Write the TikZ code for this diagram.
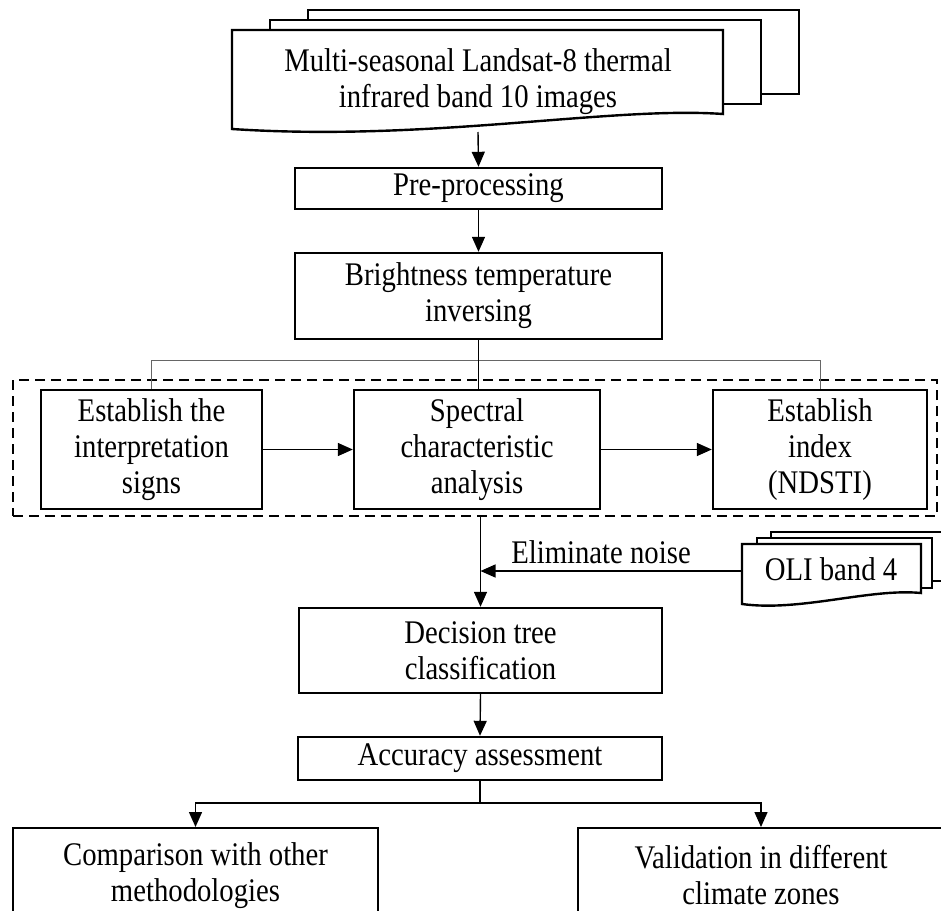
\documentclass[tikz,border=0pt]{standalone}
\usepackage{fontspec}
\setmainfont{Liberation Serif}[FakeStretch=0.87]
\usetikzlibrary{arrows.meta,calc}
\begin{document}
\begin{tikzpicture}[x=1pt,y=-1pt,
  txt/.style={font=\fontsize{33}{36}\selectfont, align=center, inner sep=0pt},
  box/.style={txt, draw, line width=2.4pt, fill=white},
  docline/.style={draw, line width=2.4pt, fill=white, line join=miter},
  conn/.style={line width=1.4pt, -{Triangle[length=15pt,width=13pt]}},
  plain/.style={line width=1.4pt},
  thinbranch/.style={line width=1pt, draw=gray!80!black},
  groupbox/.style={draw, dashed, line width=2.2pt, dash pattern=on 10pt off 6pt, inner sep=0pt}
]
\useasboundingbox (0,0) rectangle (941,910);
\clip (0,0) rectangle (941,910);

% ---- top multi-document ----
\path[docline] (308,10) rectangle (799,94);
\path[docline] (270,20) rectangle (761,104);
\path[docline] (232,30) -- (723,30) -- (723,114)
   .. controls (610,106) and (430,142) .. (232,129) -- cycle;
\node[txt] (src) at (478,82) {Multi-seasonal Landsat-8 thermal\\infrared band 10 images};
\coordinate (srcb) at (478,132);

% ---- main column ----
\node[box, minimum width=367pt, minimum height=41pt] (pre) at (478.5,188.5) {Pre-processing};
\node[box, minimum width=367pt, minimum height=86pt] (bri) at (478.5,296) {Brightness temperature\\inversing};

% ---- dashed group ----
\node[groupbox, minimum width=924pt, minimum height=136pt] (grp) at (475,448) {};
\node[box, minimum width=221pt, minimum height=119pt] (est) at (151.5,449.5) {Establish the\\interpretation\\signs};
\node[box, minimum width=246pt, minimum height=119pt] (spe) at (477,449.5) {Spectral\\characteristic\\analysis};
\node[box, minimum width=214pt, minimum height=119pt] (nds) at (820,449.5) {Establish\\index\\(NDSTI)};
\coordinate (brk) at (478,360);

% ---- OLI multi-document ----
\path[docline] (771,532) rectangle (960,581);
\path[docline] (757,538) rectangle (932,588);
\path[docline] (742,544) -- (921,544) -- (921,593)
   .. controls (870,588) and (800,612) .. (742,604) -- cycle;
\node[txt] (oli) at (831,569) {OLI band 4};
\coordinate (olil) at (742,571);

\node[box, minimum width=363pt, minimum height=85pt] (dec) at (480.5,650.5) {Decision tree\\classification};
\node[box, minimum width=364pt, minimum height=43pt] (acc) at (480,758.5) {Accuracy assessment};

\node[box, minimum width=365pt, minimum height=94pt, anchor=north] (cmp) at (195.5,827) {Comparison with other\\methodologies};
\node[box, minimum width=366pt, minimum height=94pt, anchor=north] (val) at (761,827) {Validation in different\\climate zones};

% ---- connectors ----
\draw[conn] (srcb) -- (pre.north);
\draw[conn] (pre.south) -- (bri.north);
\draw[thinbranch] (est.north) -- (est.north |- brk) -| (nds.north);
\draw[plain] (bri.south) -- (bri.south |- spe.north);
\draw[conn] (est.east) -- (spe.west);
\draw[conn] (spe.east) -- (nds.west);
\draw[conn] (grp.south -| dec.north) -- (dec.north);
\draw[conn] (olil) -- (olil -| dec.north);
\node[txt] (eln) at (601,552) {Eliminate noise};
\draw[conn] (dec.south) -- (acc.north);
\coordinate (split) at (480,803);
\draw[plain] (acc.south) -- (split);
\draw[conn] (split) -| (cmp.north);
\draw[conn] (split) -| (val.north);
\end{tikzpicture}
\end{document}
